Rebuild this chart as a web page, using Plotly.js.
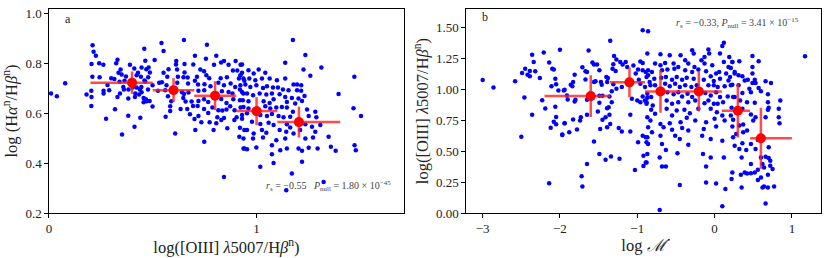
<!DOCTYPE html>
<html><head><meta charset="utf-8">
<script src="https://cdn.plot.ly/plotly-3.0.1.min.js"></script>
<style>html,body{margin:0;padding:0;background:#fff;} #chart{width:830px;height:258px;}</style>
</head><body><div id="chart"></div>
<script>
// Panel a: scatter
const aX = [0.21,0.215,0.226,0.459,0.205,0.242,0.262,0.33,0.324,0.39,0.078,0.01,0.038,0.209,0.244,0.30,0.315,0.282,0.29,0.263,0.263,0.204,0.181,0.205,0.204,0.318,0.275,0.345,0.335,0.35,0.371,0.411,0.429,0.446,0.469,0.478,0.46,0.443,0.422,0.358,0.361,0.383,0.403,0.422,0.445,0.438,0.416,0.434,0.446,0.342,0.33,0.382,0.414,0.456,0.456,0.47,0.382,0.44,0.412,0.352,0.364,0.34,
0.65,0.542,0.552,0.761,0.509,0.703,0.806,0.464,0.613,0.612,0.653,0.695,0.756,0.843,0.899,0.923,0.576,0.617,0.653,0.729,0.747,0.795,0.829,0.865,0.886,0.907,0.93,0.48,0.486,0.552,0.57,0.621,0.648,0.668,0.713,0.758,0.772,0.827,0.857,0.915,0.941,0.464,0.499,0.531,0.544,0.566,0.618,0.67,0.703,0.718,0.749,0.778,0.816,0.843,0.875,0.897,0.92,0.477,0.525,0.56,0.641,0.65,0.672,0.72,0.748,0.833,0.865,0.884,0.936,0.467,0.485,0.499,0.573,0.589,0.647,0.658,0.687,0.72,0.747,0.767,0.83,0.855,0.888,0.92,0.584,0.584,0.634,0.666,0.694,0.716,0.747,0.787,0.816,0.835,0.855,0.873,0.894,0.923,0.562,0.679,0.701,0.72,0.767,0.811,0.843,0.83,0.893,0.904,0.93,0.734,0.774,0.806,0.859,0.92,0.941,0.705,0.793,0.608,0.917,0.748,0.937,0.843,
1.175,1.235,1.138,0.93,1.042,1.226,1.312,1.259,0.961,0.986,1.01,0.922,0.937,0.965,0.994,1.026,1.063,1.098,1.138,1.178,1.195,1.215,0.922,0.946,0.97,0.999,1.031,1.05,1.079,1.103,1.127,1.154,1.195,1.215,0.93,0.954,0.983,1.015,1.047,1.074,1.111,1.138,1.17,1.202,1.231,0.934,0.961,1.034,1.063,1.082,1.146,1.186,1.219,0.937,0.961,1.042,1.066,1.095,1.122,1.146,1.175,1.243,1.283,0.93,0.954,1.018,1.05,1.074,1.106,1.13,1.162,1.251,1.288,0.978,1.018,1.058,1.082,1.146,1.162,1.235,1.267,1.307,0.954,0.986,1.026,1.047,1.111,1.143,1.178,1.21,1.283,0.937,0.983,1.031,1.095,1.138,1.235,1.272,1.347,0.941,0.954,0.999,1.074,1.114,1.146,1.202,1.251,1.294,1.074,1.219,1.082,1.018,1.17,1.219,1.323,1.143,
1.471,1.395,1.467,1.503,1.358,1.381,1.472,1.478];
const aY = [0.872,0.846,0.83,0.858,0.797,0.80,0.794,0.814,0.80,0.794,0.72,0.679,0.668,0.746,0.744,0.74,0.737,0.713,0.692,0.69,0.679,0.69,0.675,0.665,0.629,0.616,0.577,0.775,0.762,0.755,0.747,0.779,0.762,0.783,0.776,0.744,0.731,0.746,0.752,0.705,0.695,0.695,0.703,0.703,0.705,0.695,0.679,0.675,0.684,0.679,0.665,0.659,0.665,0.661,0.644,0.648,0.589,0.581,0.545,0.514,0.73,0.726,
0.893,0.881,0.849,0.874,0.813,0.83,0.83,0.81,0.809,0.795,0.797,0.795,0.818,0.809,0.809,0.794,0.776,0.775,0.763,0.775,0.768,0.794,0.803,0.794,0.771,0.771,0.762,0.783,0.763,0.762,0.746,0.746,0.744,0.743,0.746,0.752,0.74,0.74,0.744,0.739,0.73,0.726,0.712,0.722,0.724,0.712,0.722,0.719,0.73,0.715,0.716,0.708,0.722,0.712,0.719,0.705,0.695,0.695,0.69,0.692,0.684,0.677,0.683,0.69,0.692,0.688,0.685,0.679,0.679,0.656,0.649,0.627,0.668,0.648,0.661,0.647,0.647,0.649,0.656,0.645,0.657,0.641,0.656,0.652,0.628,0.608,0.617,0.617,0.629,0.629,0.617,0.623,0.612,0.611,0.615,0.628,0.612,0.623,0.585,0.595,0.576,0.588,0.6,0.583,0.58,0.572,0.572,0.583,0.577,0.563,0.563,0.559,0.539,0.541,0.532,0.532,0.532,0.518,0.505,0.485,0.458,0.344,
0.893,0.833,0.802,0.795,0.762,0.775,0.783,0.75,0.772,0.759,0.775,0.752,0.739,0.739,0.732,0.739,0.739,0.732,0.739,0.715,0.715,0.712,0.712,0.715,0.705,0.712,0.701,0.708,0.703,0.703,0.695,0.692,0.692,0.69,0.685,0.679,0.672,0.679,0.675,0.679,0.676,0.665,0.661,0.659,0.669,0.652,0.648,0.648,0.641,0.656,0.645,0.639,0.649,0.625,0.619,0.628,0.619,0.623,0.625,0.623,0.605,0.615,0.605,0.592,0.599,0.592,0.588,0.596,0.588,0.583,0.585,0.588,0.583,0.565,0.556,0.561,0.552,0.555,0.542,0.555,0.545,0.552,0.532,0.518,0.532,0.521,0.532,0.525,0.518,0.532,0.525,0.498,0.498,0.502,0.491,0.498,0.498,0.502,0.505,0.458,0.455,0.462,0.471,0.451,0.458,0.458,0.461,0.458,0.435,0.449,0.4,0.385,0.358,0.405,0.324,0.291,
0.746,0.677,0.62,0.588,0.465,0.449,0.471,0.451];
// Panel a: binned means
const aBinX = [0.40,0.60,0.80,1.00,1.204];
const aBinLo = [0.20,0.50,0.70,0.902,1.10];
const aBinHi = [0.50,0.70,0.902,1.10,1.403];
const aBinY = [0.722,0.692,0.670,0.608,0.564];
const aBinErr = [0.045,0.048,0.058,0.056,0.062];

// Panel b: scatter
const bX = [-3.0,-2.86,-2.36,-2.21,-2.0,-2.34,-2.45,-2.49,-2.39,-2.42,-2.39,-2.32,-2.26,-2.14,-2.10,-2.08,-2.58,-2.06,-2.11,-2.05,-2.02,-1.94,-2.46,-2.23,-2.19,-2.06,-2.36,-2.05,-2.08,-2.05,-2.12,-1.94,-1.97,-2.50,-2.14,
-0.93,-0.86,-1.35,-1.63,-1.30,-1.27,-1.58,-1.52,-1.56,-1.49,-1.71,-1.67,-1.65,-1.81,-1.83,-1.86,-1.84,-1.67,-1.56,-1.54,-1.47,-1.46,-1.40,-1.38,-1.31,-1.22,-1.19,-1.15,-1.13,-1.32,-1.28,-1.05,-0.96,-0.93,-0.99,-0.93,-0.89,-0.86,-1.39,-1.31,-1.27,-1.20,-1.33,-1.02,-0.98,-0.96,-0.90,-0.84,-1.95,-1.91,-1.90,-1.80,-1.81,-1.65,-1.49,-1.45,-1.36,-1.49,-1.33,-1.07,-1.00,-0.96,-0.93,-0.90,-0.87,-0.88,-1.39,-1.37,-1.51,-1.36,-1.41,-1.45,-1.83,-1.73,-1.74,-1.94,-1.88,-1.78,-1.97,-1.65,-1.09,-1.48,-1.39,-1.35,-1.24,-1.20,-1.09,-0.99,-0.93,-0.89,-0.86,-1.56,-1.49,-1.41,-1.34,-1.23,-1.65,-0.92,-0.89,-0.92,-1.03,-1.72,-1.71,
0.12,0.10,-0.29,-0.27,-0.08,-0.07,0.07,-0.70,-0.87,-0.58,-0.44,-0.38,-0.17,-0.13,0.19,0.23,-0.77,-0.70,-0.64,-0.53,-0.47,-0.34,-0.26,-0.13,-0.03,0.12,0.18,-0.86,-0.81,-0.68,-0.61,-0.52,-0.38,-0.29,-0.21,-0.11,0.02,0.06,0.15,0.26,-0.88,-0.78,-0.69,-0.63,-0.55,-0.49,-0.42,-0.36,-0.27,-0.14,-0.05,-0.01,0.07,0.18,-0.83,-0.77,-0.64,-0.58,-0.51,-0.45,-0.38,-0.30,-0.23,-0.08,-0.01,0.04,0.13,0.21,-0.87,-0.82,-0.61,-0.53,-0.47,-0.42,-0.35,-0.29,-0.12,-0.05,0.02,0.07,0.17,0.26,-0.88,-0.80,-0.62,-0.55,-0.47,-0.34,-0.25,-0.13,-0.08,-0.01,0.04,0.11,-0.82,-0.77,-0.62,-0.55,-0.49,-0.39,-0.36,-0.32,-0.21,-0.05,0.03,0.10,0.21,-0.87,-0.83,-0.70,-0.58,-0.44,-0.25,-0.11,0.00,0.13,-0.86,-0.81,-0.66,-0.55,-0.42,-0.34,-0.14,0.02,0.23,-0.87,-0.70,-0.51,-0.45,-0.16,-0.05,-0.88,-0.68,-0.34,0.10,-0.63,-0.48,-0.15,-0.05,-0.87,-0.71,-0.88,-0.68,-0.63,-0.11,0.12,-0.11,0.02,-0.45,0.14,0.10,-0.71,
1.17,0.49,0.57,0.23,0.32,0.21,0.26,0.31,0.36,0.39,0.43,0.49,0.49,0.52,0.49,0.53,0.66,0.73,0.20,0.23,0.31,0.45,0.57,0.60,0.47,0.36,0.69,0.85,0.24,0.33,0.42,0.52,0.69,0.70,0.69,0.83,0.22,0.36,0.47,0.53,0.50,0.66,0.83,0.84,0.24,0.32,0.37,0.28,0.37,0.42,0.24,0.36,0.47,0.56,0.70,0.26,0.32,0.41,0.53,0.35,0.60,0.66,0.70,0.72,0.62,0.64,0.72,0.75,0.47,0.39,0.42,0.47,0.52,0.56,0.23,0.34,0.22,0.60,0.69,0.56,0.62,0.64,0.69,0.77,0.35,0.66];
const bY = [1.075,1.015,1.28,1.297,1.32,1.22,1.167,1.132,1.148,1.118,1.105,1.145,1.091,1.216,1.167,1.159,1.064,1.086,1.024,1.04,0.991,0.997,0.934,0.912,0.845,0.859,0.794,0.777,0.737,0.717,0.69,0.725,0.634,0.617,0.241,
1.478,1.47,1.392,1.313,1.27,1.24,1.216,1.20,1.20,1.153,1.178,1.145,1.14,1.118,1.059,1.037,1.024,1.08,1.059,1.064,1.059,1.037,1.099,1.091,1.202,1.221,1.20,1.221,1.18,1.167,1.148,1.192,1.224,1.213,1.159,1.153,1.14,1.113,1.059,1.04,1.005,1.018,0.985,1.127,1.078,1.045,1.018,1.059,0.991,0.95,0.918,0.915,0.902,0.915,0.948,0.948,0.942,0.891,0.896,0.924,0.91,0.896,0.942,0.91,0.932,0.883,0.847,0.855,0.82,0.794,0.774,0.753,0.755,0.774,0.747,0.725,0.652,0.674,0.631,0.794,0.794,0.68,0.693,0.72,0.688,0.658,0.658,0.571,0.625,0.612,0.558,0.577,0.477,0.431,0.457,0.439,0.396,0.463,0.409,0.379,0.347,0.298,0.214,
1.376,1.349,1.316,1.289,1.322,1.289,1.289,1.283,1.289,1.275,1.275,1.235,1.235,1.262,1.262,1.221,1.208,1.194,1.213,1.208,1.18,1.208,1.18,1.208,1.194,1.221,1.18,1.153,1.14,1.153,1.159,1.167,1.153,1.14,1.159,1.145,1.127,1.14,1.127,1.14,1.099,1.086,1.094,1.099,1.078,1.099,1.078,1.094,1.086,1.078,1.105,1.067,1.086,1.072,1.032,1.032,1.045,1.024,1.045,1.018,1.032,1.018,1.032,1.032,1.032,1.018,1.024,1.032,0.964,0.937,0.977,0.959,0.977,0.942,0.964,0.937,0.969,0.95,0.977,0.937,0.942,0.937,0.896,0.869,0.91,0.883,0.896,0.896,0.91,0.888,0.91,0.883,0.883,0.896,0.834,0.802,0.842,0.788,0.829,0.834,0.769,0.807,0.842,0.842,0.815,0.788,0.788,0.774,0.747,0.72,0.725,0.734,0.747,0.734,0.761,0.747,0.693,0.652,0.693,0.672,0.688,0.666,0.68,0.699,0.699,0.612,0.625,0.625,0.599,0.625,0.599,0.571,0.558,0.552,0.585,0.509,0.482,0.477,0.449,0.477,0.449,0.409,0.376,0.376,0.376,0.449,0.246,0.238,0.227,0.193,0.054,0.024,
1.267,1.27,1.227,1.221,1.227,1.172,1.127,1.113,1.105,1.072,1.078,1.18,1.127,1.078,1.05,1.05,1.064,1.05,1.099,1.037,1.032,1.005,1.01,0.985,0.977,0.969,0.959,0.91,0.937,0.91,0.896,0.891,0.896,0.85,0.834,0.842,0.85,0.842,0.796,0.774,0.747,0.774,0.774,0.725,0.753,0.707,0.715,0.639,0.652,0.666,0.612,0.563,0.558,0.591,0.531,0.544,0.517,0.509,0.517,0.449,0.449,0.455,0.444,0.422,0.396,0.368,0.382,0.355,0.396,0.327,0.319,0.322,0.327,0.349,0.327,0.309,0.274,0.287,0.309,0.266,0.206,0.214,0.206,0.214,0.206,0.076];
// Panel b: binned means
const bBinX = [-1.602,-1.101,-0.70,-0.204,0.301,0.599];
const bBinLo = [-2.20,-1.352,-0.899,-0.44,0.094,0.46];
const bBinHi = [-1.352,-0.899,-0.44,0.094,0.46,1.0];
const bBinY = [0.945,1.056,0.983,0.983,0.826,0.604];
const bBinErr = [0.168,0.12,0.173,0.162,0.215,0.247];

const FONT = 'Liberation Serif, DejaVu Serif, serif';
const errCol = 'rgba(255,30,30,0.8)';
function binTrace(x, lo, hi, y, err, xa, ya) {
  return {x: x, y: y, xaxis: xa, yaxis: ya, type: 'scatter', mode: 'markers',
    marker: {color: '#ff0000', size: 10},
    error_x: {type: 'data', symmetric: false,
      array: hi.map((h, i) => h - x[i]), arrayminus: lo.map((l, i) => x[i] - l),
      color: errCol, thickness: 2.5, width: 0},
    error_y: {type: 'data', array: err, color: errCol, thickness: 2.5, width: 0},
    hoverinfo: 'skip'};
}
const data = [
  {x: aX, y: aY, xaxis: 'x', yaxis: 'y', type: 'scatter', mode: 'markers', marker: {color: '#0000ff', size: 4.5}},
  binTrace(aBinX, aBinLo, aBinHi, aBinY, aBinErr, 'x', 'y'),
  {x: bX, y: bY, xaxis: 'x2', yaxis: 'y2', type: 'scatter', mode: 'markers', marker: {color: '#0000ff', size: 4.5}},
  binTrace(bBinX, bBinLo, bBinHi, bBinY, bBinErr, 'x2', 'y2')
];
const TCOL = '#222';
const axBase = {showline: true, mirror: true, linecolor: '#000', linewidth: 1.2, ticks: 'outside', ticklen: 3.5, tickwidth: 1, tickcolor: '#000',
  showgrid: false, zeroline: false, automargin: false, tickfont: {family: FONT, size: 13, color: TCOL}};
const TITLEF = {family: FONT, size: 16.5, color: TCOL};
const layout = {
  width: 830, height: 258, showlegend: false, paper_bgcolor: '#fff', plot_bgcolor: '#fff',
  margin: {l: 0, r: 0, t: 9, b: 45},
  font: {family: FONT, color: TCOL},
  xaxis: Object.assign({}, axBase, {domain: [0.0590, 0.4867], range: [0, 1.71], tickvals: [0, 1], ticktext: ['0', '1'], anchor: 'y',
    title: {text: 'log([OIII] <i>λ</i>5007/H<i>β</i><sup>n</sup>)', font: TITLEF, standoff: 4}}),
  yaxis: Object.assign({}, axBase, {domain: [0, 1], range: [0.2, 1.017], tickvals: [0.2, 0.4, 0.6, 0.8, 1.0], ticktext: ['0.2', '0.4', '0.6', '0.8', '1.0'], anchor: 'x',
    title: {text: 'log (H<i>α</i><sup>n</sup>/H<i>β</i><sup>n</sup>)', font: TITLEF, standoff: 4}}),
  xaxis2: Object.assign({}, axBase, {domain: [0.5614, 0.989], range: [-3.216, 1.375], tickvals: [-3, -2, -1, 0, 1], ticktext: ['−3', '−2', '−1', '0', '1'], anchor: 'y2',
    title: {text: 'log <i>ℳ̇</i>', font: TITLEF, standoff: 4}}),
  yaxis2: Object.assign({}, axBase, {domain: [0, 1], range: [0, 1.649], tickvals: [0, 0.25, 0.5, 0.75, 1.0, 1.25, 1.5], ticktext: ['0.00', '0.25', '0.50', '0.75', '1.00', '1.25', '1.50'], anchor: 'x2',
    title: {text: 'log([OIII] <i>λ</i>5007/H<i>β</i><sup>n</sup>)', font: TITLEF, standoff: 3}}),
  annotations: [
    {xref: 'x domain', yref: 'y domain', x: 0.04, y: 0.95, xanchor: 'left', yanchor: 'middle', text: 'a', showarrow: false, font: {family: FONT, size: 12, color: TCOL}},
    {xref: 'x2 domain', yref: 'y2 domain', x: 0.04, y: 0.96, xanchor: 'left', yanchor: 'middle', text: 'b', showarrow: false, font: {family: FONT, size: 12, color: TCOL}},
    {xref: 'x domain', yref: 'y domain', x: 0.97, y: 0.13, xanchor: 'right', yanchor: 'middle', showarrow: false,
      text: '<i>r</i><sub>s</sub> = −0.55   <i>P</i><sub>null</sub> = 1.80 × 10<sup>−45</sup>', font: {family: FONT, size: 10, color: '#444'}},
    {xref: 'x2 domain', yref: 'y2 domain', x: 0.945, y: 0.93, xanchor: 'right', yanchor: 'middle', showarrow: false,
      text: '<i>r</i><sub>s</sub> = −0.33, <i>P</i><sub>null</sub> = 3.41 × 10<sup>−15</sup>', font: {family: FONT, size: 10, color: '#444'}}
  ]
};
Plotly.newPlot('chart', data, layout, {displayModeBar: false, staticPlot: true});
</script></body></html>
